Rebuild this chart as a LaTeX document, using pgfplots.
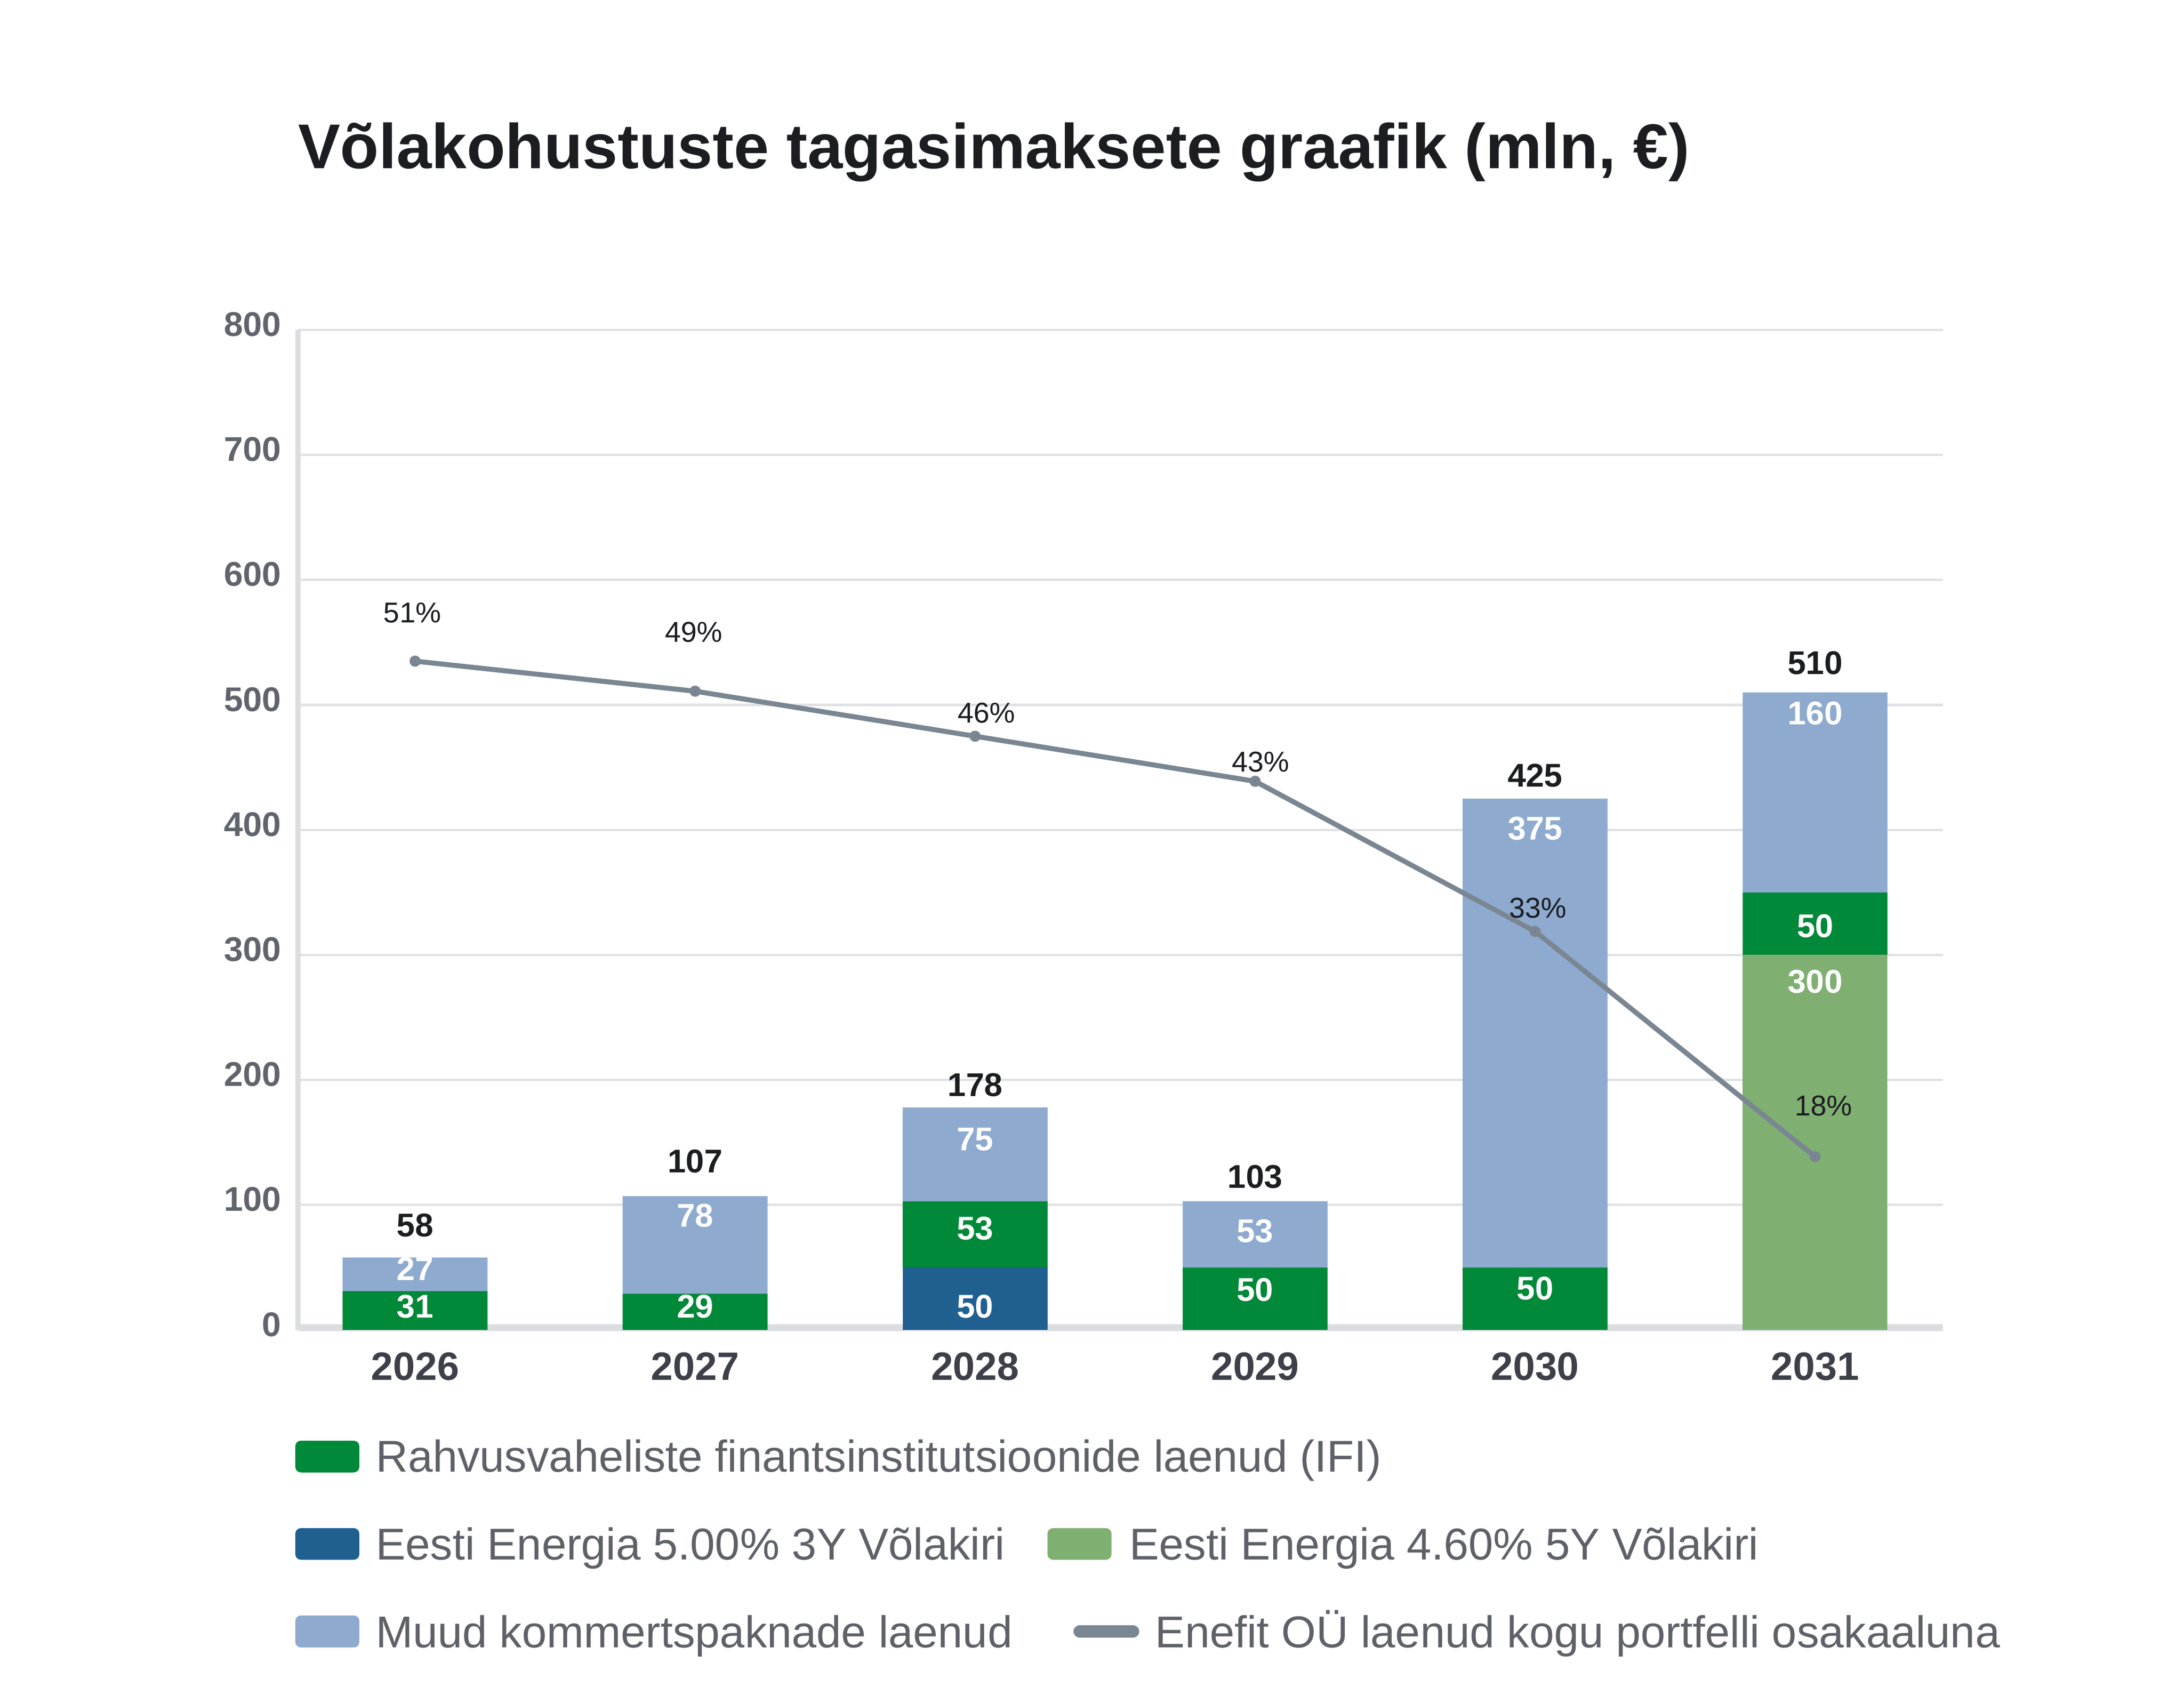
\documentclass[border=0pt]{standalone}
\usepackage{fontspec}
\setmainfont{Liberation Sans}
\usepackage{pgfplots}
\pgfplotsset{compat=1.18}
\definecolor{cIFI}{HTML}{008938}
\definecolor{cB3}{HTML}{206090}
\definecolor{cB5}{HTML}{7FB071}
\definecolor{cMuu}{HTML}{8EABCF}
\definecolor{cLine}{HTML}{7A8792}
\definecolor{cLineDark}{HTML}{55646F}
\definecolor{cGrid}{HTML}{E0E1E5}
\definecolor{cAxis}{HTML}{DCDDE1}
\definecolor{cTick}{HTML}{60646C}
\definecolor{cYear}{HTML}{3D4048}
\definecolor{cDark}{HTML}{1C1D21}
\definecolor{cLeg}{HTML}{5F6169}
\newcommand{\seg}{\fontsize{11.8}{14}\selectfont\bfseries}
\newcommand{\tot}{\fontsize{11.8}{14}\selectfont\bfseries}
\newcommand{\pct}{\fontsize{10.3}{12}\selectfont}
\newcommand{\leg}{\fontsize{16}{19}\selectfont}
\pgfplotsset{chartbox/.style={
  at={(107pt,131pt)}, anchor=south west,
  scale only axis, width=590.5pt, height=359.05pt,
  xmin=-0.418, xmax=5.457, clip=false}}
\begin{document}
\begin{tikzpicture}
\useasboundingbox (0,0) rectangle (784pt,608.5pt);
\begin{axis}[
  chartbox, ymin=0, ymax=800,
  ybar stacked, bar width=52pt,
  axis line style={draw=none},
  ymajorgrids, grid style={cGrid, line width=0.8pt},
  ytick={0,100,...,800},
  xtick={0,1,2,3,4,5}, xticklabels={2026,2027,2028,2029,2030,2031},
  major tick length=0pt, tick style={draw=none},
  /pgf/number format/assume math mode=true,
  yticklabel style={font=\fontsize{12.3}{14}\selectfont\bfseries, text=cTick, anchor=east, inner sep=0pt, xshift=-5.9pt, yshift=2pt},
  xticklabel style={font=\fontsize{14.2}{16}\selectfont\bfseries, text=cYear, anchor=base, inner sep=0pt, yshift=-18pt},
]
\addplot[fill=cB3, draw=none] coordinates {(0,0) (1,0) (2,50) (3,0) (4,0) (5,0)};
\addplot[fill=cB5, draw=none] coordinates {(0,0) (1,0) (2,0) (3,0) (4,0) (5,300)};
\addplot[fill=cIFI, draw=none] coordinates {(0,31) (1,29) (2,53) (3,50) (4,50) (5,50)};
\addplot[fill=cMuu, draw=none] coordinates {(0,27) (1,78) (2,75) (3,53) (4,375) (5,160)};
\draw[line width=2pt, cAxis] (axis cs:-0.418,2.2) -- (axis cs:5.457,2.2);
\draw[line width=2pt, cAxis] (axis cs:-0.418,0) -- (axis cs:-0.418,800);
\end{axis}
\begin{axis}[chartbox, ymin=6.46, ymax=73.06, hide axis]
\addplot[color=cLine, line width=1.8pt, line join=round, line cap=round, mark=*, mark size=1.1pt, mark options={fill=cLineDark, draw=none}] coordinates {(0,51) (1,49) (2,46) (3,43) (4,33) (5,18)};
\end{axis}
\begin{axis}[chartbox, ymin=0, ymax=800, hide axis]
% segment labels
\node[font=\seg, text=white] at (axis cs:0,49.0) {27};
\node[font=\seg, text=white] at (axis cs:0,18.9) {31};
\node[font=\seg, text=white] at (axis cs:1,91.4) {78};
\node[font=\seg, text=white] at (axis cs:1,18.9) {29};
\node[font=\seg, text=white] at (axis cs:2,152.6) {75};
\node[font=\seg, text=white] at (axis cs:2,81.3) {53};
\node[font=\seg, text=white] at (axis cs:2,18.9) {50};
\node[font=\seg, text=white] at (axis cs:3,79.1) {53};
\node[font=\seg, text=white] at (axis cs:3,32.3) {50};
\node[font=\seg, text=white] at (axis cs:4,401.1) {375};
\node[font=\seg, text=white] at (axis cs:4,33.4) {50};
\node[font=\seg, text=white] at (axis cs:5,493.5) {160};
\node[font=\seg, text=white] at (axis cs:5,323.1) {50};
\node[font=\seg, text=white] at (axis cs:5,278.5) {300};
% totals
\node[font=\tot, text=cDark] at (axis cs:0,83.6) {58};
\node[font=\tot, text=cDark] at (axis cs:1,134.8) {107};
\node[font=\tot, text=cDark] at (axis cs:2,196.1) {178};
\node[font=\tot, text=cDark] at (axis cs:3,122.5) {103};
\node[font=\tot, text=cDark] at (axis cs:4,443.4) {425};
\node[font=\tot, text=cDark] at (axis cs:5,533.6) {510};
% percentage labels
\node[font=\pct, text=cDark] at (axis cs:-0.01,573.7) {51\%};
\node[font=\pct, text=cDark] at (axis cs:0.995,558.2) {49\%};
\node[font=\pct, text=cDark] at (axis cs:2.04,493.5) {46\%};
\node[font=\pct, text=cDark] at (axis cs:3.02,454.5) {43\%};
\node[font=\pct, text=cDark] at (axis cs:4.01,337.6) {33\%};
\node[font=\pct, text=cDark] at (axis cs:5.03,179.4) {18\%};
\end{axis}
% title
\node[anchor=base west, inner sep=0pt, font=\fontsize{22.7}{27}\selectfont\bfseries, text=cDark] at (106.8pt,548pt) {Võlakohustuste tagasimaksete graafik (mln, €)};
% legend
\fill[cIFI, rounded corners=2pt] (106pt,79.85pt) rectangle (129pt,91.25pt);
\node[anchor=base west, inner sep=0pt, font=\leg, text=cLeg] at (134.7pt,80pt) {Rahvusvaheliste finantsinstitutsioonide laenud (IFI)};
\fill[cB3, rounded corners=2pt] (106pt,48.5pt) rectangle (129pt,59.85pt);
\node[anchor=base west, inner sep=0pt, font=\leg, text=cLeg] at (134.7pt,48.5pt) {Eesti Energia 5.00\% 3Y Võlakiri};
\fill[cB5, rounded corners=2pt] (376pt,48.5pt) rectangle (399pt,59.85pt);
\node[anchor=base west, inner sep=0pt, font=\leg, text=cLeg] at (405.2pt,48.5pt) {Eesti Energia 4.60\% 5Y Võlakiri};
\fill[cMuu, rounded corners=2pt] (106pt,17pt) rectangle (129pt,28.5pt);
\node[anchor=base west, inner sep=0pt, font=\leg, text=cLeg] at (134.7pt,17pt) {Muud kommertspaknade laenud};
\draw[cLine, line width=4.5pt, line cap=round] (387.6pt,22.8pt) -- (406.7pt,22.8pt);
\node[anchor=base west, inner sep=0pt, font=\leg, text=cLeg] at (414.5pt,17pt) {Enefit OÜ laenud kogu portfelli osakaaluna};
\end{tikzpicture}
\end{document}
